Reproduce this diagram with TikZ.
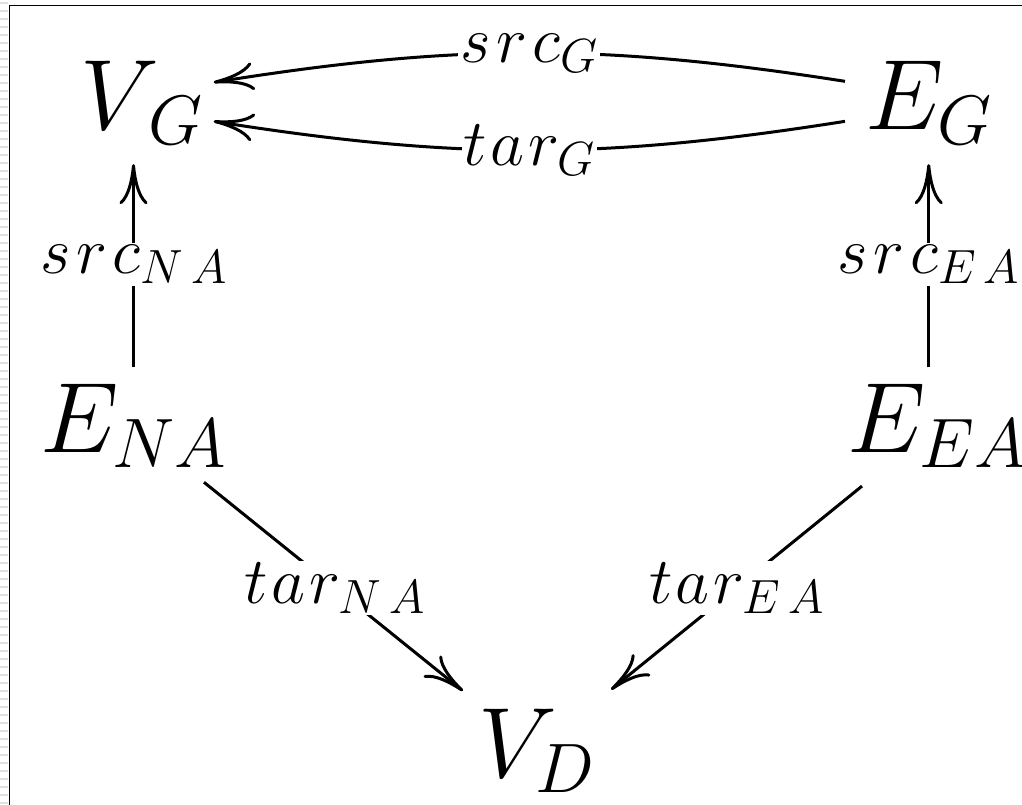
\RequirePackage{fix-cm}
\documentclass[tikz,border=0pt]{standalone}
\usepackage{tikz}
\usetikzlibrary{arrows.meta}
\DeclareMathSizes{66}{66}{48}{36}
\tikzset{
    obj/.style={inner sep=0pt,font=\fontsize{100}{120}\selectfont},
    lbl/.style={fill=white,inner sep=2pt,font=\fontsize{66}{78}\selectfont},
    map/.style={line width=3pt,-{To[length=40pt,width=28pt]}},
  }

\begin{document}
\begin{tikzpicture}[x=1pt,y=-1pt]
  \useasboundingbox (0,0) rectangle (1022,805);
  % margin strip and frame
  \foreach \y in {2,10,...,802}
    \fill[black!12] (0,\y) rectangle (8,\y+2);
  \draw[line width=1.5pt] (9.5,805) -- (9.5,5.5) -- (1022,5.5);
  % objects
  \node[obj,anchor=base west] (VG) at (80,130) {$V_{\mkern3mu G}$};
  \node[obj,anchor=base west] (EG) at (865,130) {$E_G$};
  \node[obj,anchor=base west] (ENA) at (40,452) {$E_{NA}$};
  \node[obj,anchor=base west] (EEA) at (847,452) {$E_{EA}$};
  \node[obj,anchor=base west] (VD) at (478,777) {$V_D$};
  % maps
  \draw[map] ([xshift=-20pt,yshift=22pt]EG.west) to[bend right=9]
    node[lbl]{$s\mkern1.5mu r\mkern1.5mu c_G$} ([xshift=10pt,yshift=21pt]VG.east);
  \draw[map] ([xshift=-20pt,yshift=-18pt]EG.west) to[bend left=9]
    node[lbl]{$t\mkern1mu a\mkern1mu r_G$} ([xshift=10pt,yshift=-18pt]VG.east);
  \draw[map,shorten <=16pt,shorten >=19pt] (ENA.north) -- (ENA.north |- VG.south)
    node[lbl,midway]{$s\mkern1.5mu r\mkern1.5mu c_{N\,A}$};
  \draw[map,shorten <=16pt,shorten >=19pt] (EG.south |- EEA.north) -- (EG.south)
    node[lbl,midway]{$s\mkern1.5mu r\mkern1.5mu c_{E\,A}$};
  \draw[map,shorten <=24pt,shorten >=28pt] (ENA) -- (VD)
    node[lbl,midway]{$t\mkern1mu a\mkern1mu r_{N\,A}$};
  \draw[map,shorten <=30pt,shorten >=30pt] (EEA) -- (VD)
    node[lbl,midway]{$t\mkern1mu a\mkern1mu r_{E\,A}$};
\end{tikzpicture}
\end{document}
